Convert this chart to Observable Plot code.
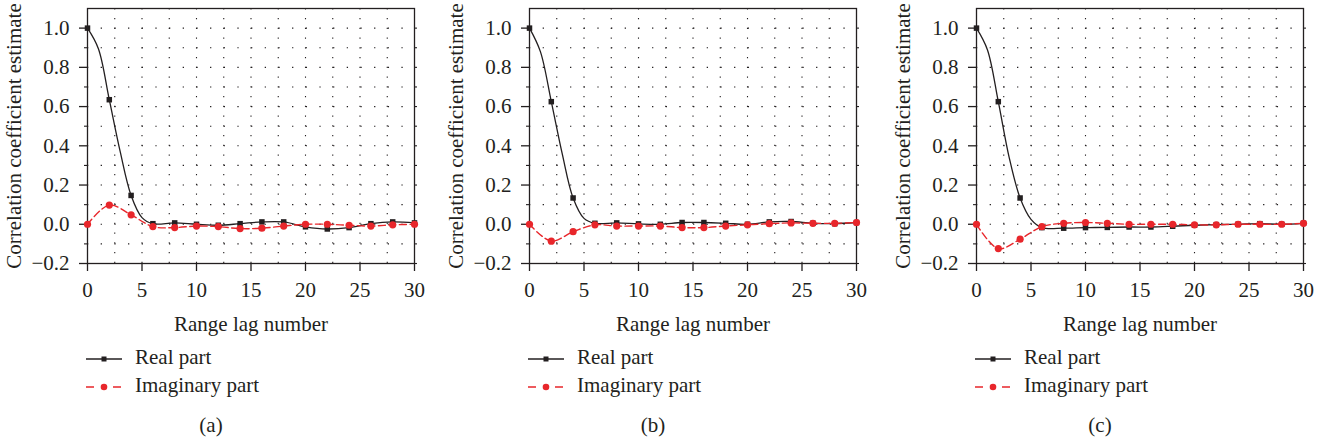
<!DOCTYPE html>
<html>
<head>
<meta charset="utf-8">
<script src="https://cdn.jsdelivr.net/npm/d3@7"></script>
<script src="https://cdn.jsdelivr.net/npm/@observablehq/plot@0.6"></script>
<style>
  html, body { margin: 0; padding: 0; background: #fff; }
  #root { position: relative; width: 1325px; height: 443px; background: #fff; overflow: hidden;
          font-family: "Liberation Serif", "DejaVu Serif", serif; color: #231f20; }
  .panel { position: absolute; top: 0; width: 436px; height: 443px; }
  .panel svg.plot { position: absolute; left: 0; top: 0; }
  .leg { position: absolute; left: 0; top: 0; }
  .legtext { position: absolute; left: 135px; font-size: 21px; line-height: 1; white-space: nowrap; transform: translateY(-55%); }
  .cap { position: absolute; font-size: 21px; line-height: 1; transform: translate(-50%, -55%); }
</style>
</head>
<body>
<div id="root"></div>
<script>
// ---- data ----
const evenLags = [0, 2, 4, 6, 8, 10, 12, 14, 16, 18, 20, 22, 24, 26, 28, 30];
const oddLags = [1, 3, 5];

const realEvenA = [1.0, 0.635, 0.147, 0.003, 0.007, 0.0, -0.005, 0.003, 0.012, 0.012, -0.013, -0.024, -0.017, 0.003, 0.012, 0.007];
const realOddA  = [0.895, 0.37, 0.034];
const imagEvenA = [0.0, 0.098, 0.048, -0.012, -0.017, -0.009, -0.012, -0.022, -0.02, -0.009, 0.0, 0.0, -0.005, -0.009, -0.003, 0.0];

const realEvenB = [1.0, 0.625, 0.134, 0.005, 0.007, 0.002, 0.0, 0.009, 0.009, 0.005, 0.0, 0.012, 0.014, 0.005, 0.003, 0.009];
const realOddB  = [0.88, 0.36, 0.03];
const imagEvenB = [0.0, -0.086, -0.038, -0.003, -0.009, -0.009, -0.009, -0.017, -0.017, -0.009, -0.003, 0.003, 0.007, 0.005, 0.005, 0.009];

const realEvenC = [1.0, 0.625, 0.134, -0.017, -0.02, -0.017, -0.016, -0.014, -0.014, -0.01, -0.005, -0.002, 0.0, 0.003, 0.0, 0.005];
const realOddC  = [0.89, 0.34, 0.025];
const imagEvenC = [0.0, -0.124, -0.076, -0.012, 0.005, 0.009, 0.005, 0.0, 0.0, 0.0, -0.003, -0.003, 0.0, 0.0, 0.0, 0.005];

const xTicks = [0, 5, 10, 15, 20, 25, 30];
const yTicks = [-0.2, 0.0, 0.2, 0.4, 0.6, 0.8, 1.0];
const yMinorTicks = [-0.1, 0.1, 0.3, 0.5, 0.7, 0.9];
const hGridLevels = [-0.1, 0.0, 0.1, 0.2, 0.3, 0.4, 0.5, 0.6, 0.7, 0.8, 0.9, 1.0];
const vGridLevels = [2.5, 5, 7.5, 10, 12.5, 15, 17.5, 20, 22.5, 25, 27.5];
const captions = ["(a)", "(b)", "(c)"];
const legendLabels = ["Real part", "Imaginary part"];
const xLabel = "Range lag number";
const yLabel = "Correlation coefficient estimate";

const panels = [
  {realEven: realEvenA, realOdd: realOddA, imagEven: imagEvenA, left: 0},
  {realEven: realEvenB, realOdd: realOddB, imagEven: imagEvenB, left: 442},
  {realEven: realEvenC, realOdd: realOddC, imagEven: imagEvenC, left: 889}
];

const INK = "#231f20";
const RED = "#e8262b";
const FONT = "'Liberation Serif', 'DejaVu Serif', serif";
const fmt = d3.format(".1f");

const root = document.getElementById("root");

panels.forEach((p, i) => {
  const realPts = evenLags.map((x, k) => ({x, y: p.realEven[k]}))
    .concat(oddLags.map((x, k) => ({x, y: p.realOdd[k]})))
    .sort((a, b) => a.x - b.x);
  const realMarks = evenLags.map((x, k) => ({x, y: p.realEven[k]}));
  const imagPts = evenLags.map((x, k) => ({x, y: p.imagEven[k]}));
  const rightTicks = yTicks.concat(yMinorTicks);

  const chart = Plot.plot({
    width: 436,
    height: 340,
    marginLeft: 87,
    marginRight: 22,
    marginTop: 8,
    marginBottom: 77,
    style: {fontFamily: FONT, fontSize: "19.5px", color: INK, background: "transparent", overflow: "visible"},
    x: {domain: [0, 30]},
    y: {domain: [-0.2, 1.1]},
    marks: [
      Plot.ruleY(hGridLevels, {stroke: INK, strokeWidth: 1.1, strokeDasharray: "1.3,12.37"}),
      Plot.ruleX(vGridLevels, {y1: -0.2, y2: 1.1, stroke: INK, strokeWidth: 1.1, strokeDasharray: "1.3,8.45"}),
      // minor outward ticks on left and right frame edges
      Plot.ruleY(yMinorTicks, {x1: 0, x2: 0, dx: 0, stroke: INK, strokeWidth: 1.1, insetLeft: -3}),
      Plot.ruleY(rightTicks, {x1: 30, x2: 30, stroke: INK, strokeWidth: 1.1, insetRight: -3}),
      Plot.frame({stroke: INK, strokeWidth: 1.3}),
      Plot.axisX({ticks: xTicks, tickSize: 8, tickPadding: 11, stroke: INK, strokeWidth: 1.3,
        label: xLabel, labelAnchor: "center", labelArrow: "none", labelOffset: 67, fontSize: 21}),
      Plot.axisY({ticks: yTicks, tickSize: 8, tickPadding: 10, tickFormat: fmt, stroke: INK, strokeWidth: 1.3,
        label: yLabel, labelAnchor: "center", labelArrow: "none", labelOffset: 81, fontSize: 21}),
      Plot.line(realPts, {x: "x", y: "y", curve: "catmull-rom", stroke: INK, strokeWidth: 1.3}),
      Plot.dot(realMarks, {x: "x", y: "y", symbol: "square", r: 3.1, fill: INK, stroke: "none"}),
      Plot.line(imagPts, {x: "x", y: "y", curve: "catmull-rom", stroke: RED, strokeWidth: 1.4, strokeDasharray: "7,3.5"}),
      Plot.dot(imagPts, {x: "x", y: "y", symbol: "circle", r: 3.6, fill: RED, stroke: "none"})
    ]
  });
  chart.classList.add("plot");

  const div = document.createElement("div");
  div.className = "panel";
  div.style.left = p.left + "px";
  div.appendChild(chart);

  // legend samples
  const svgNS = "http://www.w3.org/2000/svg";
  const leg = document.createElementNS(svgNS, "svg");
  leg.setAttribute("class", "leg");
  leg.setAttribute("width", 436);
  leg.setAttribute("height", 443);
  leg.innerHTML =
    `<line x1="86" x2="122" y1="359" y2="359" stroke="${INK}" stroke-width="1.3"/>` +
    `<rect x="101.5" y="356.5" width="5" height="5" fill="${INK}"/>` +
    `<line x1="86" x2="122" y1="387" y2="387" stroke="${RED}" stroke-width="1.4" stroke-dasharray="8,19"/>` +
    `<circle cx="104" cy="387" r="3.3" fill="${RED}"/>`;
  div.appendChild(leg);

  legendLabels.forEach((t, k) => {
    const s = document.createElement("div");
    s.className = "legtext";
    s.style.top = (k === 0 ? 359 : 387) + "px";
    s.textContent = t;
    div.appendChild(s);
  });

  const cap = document.createElement("div");
  cap.className = "cap";
  cap.style.left = "211px";
  cap.style.top = "427px";
  cap.textContent = captions[i];
  div.appendChild(cap);

  root.appendChild(div);
});
</script>
</body>
</html>
